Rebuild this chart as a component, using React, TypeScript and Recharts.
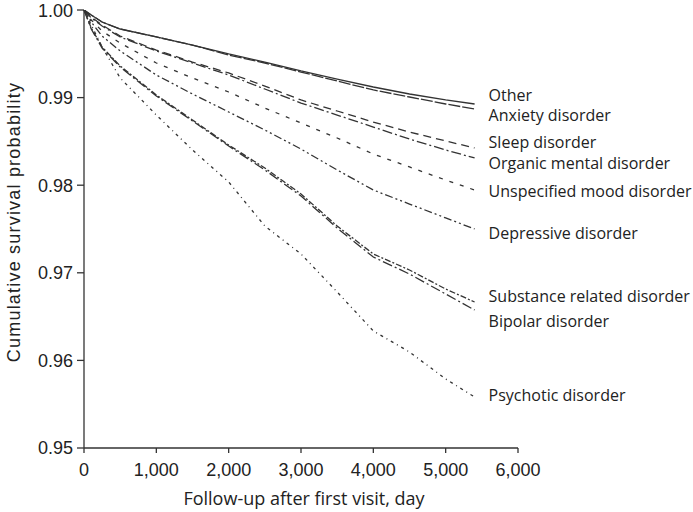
import React from "react";
import { LineChart, Line, XAxis, YAxis, Label } from "recharts";

// follow-up days sampled along the curves
const days = [0, 100, 250, 500, 1000, 1500, 2000, 2500, 3000, 3500, 4000, 4500, 5000, 5400];

const other = [1, 0.99943, 0.99863, 0.99783, 0.99692, 0.996, 0.99498, 0.99406, 0.99304, 0.99212, 0.99121, 0.99041, 0.98973, 0.98927];
const anxiety = [1, 0.99943, 0.99863, 0.99783, 0.99692, 0.996, 0.99486, 0.99395, 0.99292, 0.99189, 0.99087, 0.99007, 0.98927, 0.9887];
const sleep = [1, 0.9992, 0.99829, 0.99703, 0.99543, 0.99406, 0.99281, 0.99132, 0.98973, 0.98847, 0.98721, 0.98607, 0.98505, 0.98425];
const organic = [1, 0.99909, 0.99817, 0.99692, 0.99532, 0.99395, 0.99258, 0.99098, 0.98938, 0.98801, 0.98664, 0.98527, 0.98402, 0.98311];
const unspecified = [1, 0.99886, 0.9976, 0.99623, 0.99395, 0.99224, 0.99064, 0.98881, 0.9871, 0.98539, 0.98356, 0.98208, 0.98059, 0.97945];
const depressive = [1, 0.99863, 0.99703, 0.99532, 0.99258, 0.99041, 0.98836, 0.9863, 0.98413, 0.98174, 0.97945, 0.97785, 0.97626, 0.975];
const substance = [1, 0.99795, 0.99578, 0.99361, 0.9903, 0.98744, 0.98459, 0.98196, 0.979, 0.97534, 0.97215, 0.97032, 0.96815, 0.96667];
const bipolar = [1, 0.99783, 0.99566, 0.99349, 0.99018, 0.98733, 0.98447, 0.98174, 0.97877, 0.97511, 0.9718, 0.96986, 0.96758, 0.96575];
const psychotic = [1, 0.99829, 0.99578, 0.99224, 0.98801, 0.98402, 0.98037, 0.97534, 0.97215, 0.96781, 0.96336, 0.96096, 0.95788, 0.95582];

const xTicks = [0, 1000, 2000, 3000, 4000, 5000, 6000];
const yTicks = [0.95, 0.96, 0.97, 0.98, 0.99, 1.0];

const series = [
  { key: "other", name: "Other", values: other, dash: undefined, dy: -9 },
  { key: "anxiety", name: "Anxiety disorder", values: anxiety, dash: "12 2", dy: 6 },
  { key: "sleep", name: "Sleep disorder", values: sleep, dash: "8 5", dy: -6 },
  { key: "organic", name: "Organic mental disorder", values: organic, dash: "10 3 2 3", dy: 5 },
  { key: "unspecified", name: "Unspecified mood disorder", values: unspecified, dash: "4 7", dy: 1 },
  { key: "depressive", name: "Depressive disorder", values: depressive, dash: "8 3 2 3 2 3", dy: 4 },
  { key: "substance", name: "Substance related disorder", values: substance, dash: "6 2 2 2", dy: -6 },
  { key: "bipolar", name: "Bipolar disorder", values: bipolar, dash: "10 3 2 3", dy: 11 },
  { key: "psychotic", name: "Psychotic disorder", values: psychotic, dash: "3 4 1 4", dy: -2 },
];

const data = days.map((day, i) => {
  const row: Record<string, number> = { day };
  series.forEach((s) => {
    row[s.key] = s.values[i];
  });
  return row;
});

const last = days.length - 1;
const sans = "'Liberation Sans', Arial, sans-serif";
const labelFont = "'Open Sans', 'Noto Sans', sans-serif";
const tickFont = { fontFamily: sans, fontSize: 18, fill: "#222" };

const endLabel = (name: string, dy: number) => (props: any) => {
  if (props.index !== last) return null;
  return (
    <text
      x={props.x + 14}
      y={props.y + dy}
      dominantBaseline="central"
      fontFamily={labelFont}
      fontSize={16}
      fill="#222"
    >
      {name}
    </text>
  );
};

export default function App() {
  return (
    <div style={{ width: 693, height: 512, overflow: "hidden", background: "#fff" }}>
      <style>{"body{margin:0;overflow:hidden}"}</style>
      <LineChart
        width={693}
        height={512}
        data={data}
        margin={{ top: 10, right: 175, left: 0, bottom: 0 }}
      >
        <XAxis
          dataKey="day"
          type="number"
          domain={[0, 6000]}
          ticks={xTicks}
          tickFormatter={(v) => v.toLocaleString("en-US")}
          tick={tickFont}
          tickSize={5}
          tickMargin={10}
          stroke="#333"
          strokeWidth={1.3}
          height={64}
        >
          <Label
            content={({ viewBox }: any) => (
              <text
                x={viewBox.x + viewBox.width / 2 + 3}
                y={505}
                textAnchor="middle"
                fontFamily={labelFont}
                fontSize={18}
                fill="#222"
              >
                Follow-up after first visit, day
              </text>
            )}
          />
        </XAxis>
        <YAxis
          type="number"
          domain={[0.95, 1.0]}
          ticks={yTicks}
          tickFormatter={(v) => v.toFixed(2)}
          tick={tickFont}
          tickSize={7}
          tickMargin={4}
          stroke="#333"
          strokeWidth={1.3}
          width={84}
          allowDataOverflow
        >
          <Label
            content={() => (
              <text
                transform="translate(14, 222) rotate(-90)"
                textAnchor="middle"
                dominantBaseline="central"
                fontFamily={sans}
                fontSize={18}
                letterSpacing={1.2}
                fill="#222"
              >
                Cumulative survival probability
              </text>
            )}
          />
        </YAxis>
        {series.map((s) => (
          <Line
            key={s.key}
            dataKey={s.key}
            type="linear"
            stroke="#333"
            strokeWidth={1.3}
            strokeDasharray={s.dash}
            dot={false}
            isAnimationActive={false}
            label={endLabel(s.name, s.dy)}
          />
        ))}
      </LineChart>
    </div>
  );
}
